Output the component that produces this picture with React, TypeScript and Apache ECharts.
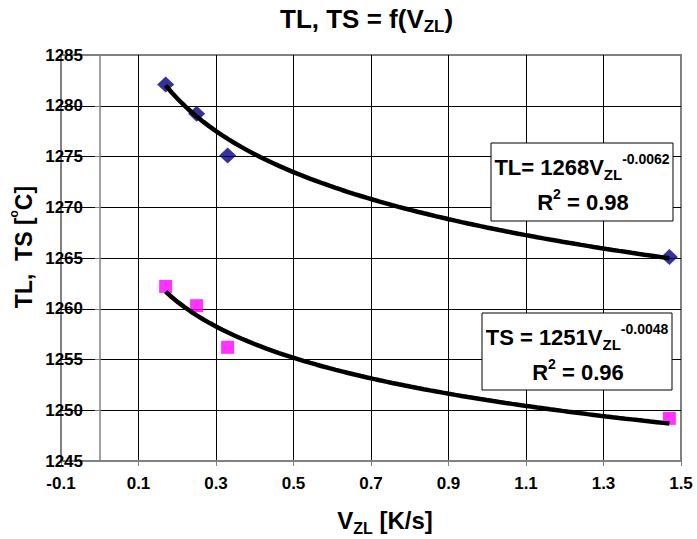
import React, { useEffect, useRef } from "react";
import * as echarts from "echarts";

// ---- data ----
const tlX = [0.17, 0.25, 0.33, 1.47];
const tlY = [1282.1, 1279.2, 1275.1, 1265.1];
const tsX = [0.17, 0.25, 0.33, 1.47];
const tsY = [1262.2, 1260.3, 1256.2, 1249.2];
// power trendline coefficients shown in the chart: y = a * x^b
const tlFit = [1268, -0.0062];
const tsFit = [1251, -0.0048];
const tlR2 = "0.98";
const tsR2 = "0.96";
// axes
const xRange = [-0.1, 1.5];
const xStep = 0.2;
const yRange = [1245, 1285];
const yStep = 5;

const FONT = "'Liberation Sans', Arial, Helvetica, sans-serif";

function fitCurve(xs: number[], fit: number[]) {
  const lo = Math.min(...xs);
  const hi = Math.max(...xs);
  const n = 80;
  const out: number[][] = [];
  for (let i = 0; i <= n; i++) {
    const x = lo + ((hi - lo) * i) / n;
    out.push([x, fit[0] * Math.pow(x, fit[1])]);
  }
  return out;
}

const boxRich = {
  m: { fontSize: 22, fontWeight: "bold", fontFamily: FONT, lineHeight: 30, verticalAlign: "middle", fill: "#000", color: "#000" },
  sub: { fontSize: 15, fontWeight: "bold", fontFamily: FONT, lineHeight: 19, verticalAlign: "bottom", fill: "#000", color: "#000" },
  sup: { fontSize: 14, fontWeight: "bold", fontFamily: FONT, lineHeight: 19, verticalAlign: "top", fill: "#000", color: "#000" },
};

const nameRich = {
  m: { fontSize: 24, fontWeight: "bold", fontFamily: FONT, lineHeight: 32, verticalAlign: "middle", fill: "#000", color: "#000" },
  sub: { fontSize: 16, fontWeight: "bold", fontFamily: FONT, lineHeight: 20, verticalAlign: "bottom", fill: "#000", color: "#000" },
  o: { fontSize: 12, fontWeight: "bold", fontFamily: FONT, lineHeight: 18, verticalAlign: "top", fill: "#000", color: "#000" },
};

const yNameRich = {
  m: { fontSize: 23, fontWeight: "bold", fontFamily: FONT, lineHeight: 32, verticalAlign: "middle", fill: "#000", color: "#000" },
  o: { fontSize: 12, fontWeight: "bold", fontFamily: FONT, lineHeight: 18, verticalAlign: "top", fill: "#000", color: "#000" },
};

function richText(x: number, y: number, text: string, rich: any, rotation = 0) {
  return {
    type: "text",
    x,
    y,
    z: 20,
    rotation,
    style: {
      text,
      rich,
      textAlign: "center",
      textVerticalAlign: "middle",
      fill: "#000",
      font: `bold 21px ${FONT}`,
    },
  };
}

export default function App() {
  const ref = useRef<HTMLDivElement>(null);

  useEffect(() => {
    document.body.style.margin = "0";
    const chart = echarts.init(ref.current!, undefined, { renderer: "svg" });
    const option: any = {
      animation: false,
      backgroundColor: "#fff",
      title: {
        text: "{m|TL, TS = f(V}{sub|ZL}{m|)}",
        left: 280,
        top: 3,
        padding: 0,
        textStyle: {
          fontFamily: FONT,
          fontWeight: "bold",
          fontSize: 26,
          color: "#000",
          rich: {
            m: { fontSize: 26, fontWeight: "bold", fontFamily: FONT, lineHeight: 32, verticalAlign: "middle", color: "#000" },
            sub: { fontSize: 17, fontWeight: "bold", fontFamily: FONT, lineHeight: 14, verticalAlign: "bottom", color: "#000" },
          },
        },
      },
      grid: {
        left: 61,
        right: 16,
        top: 55,
        bottom: 78,
        show: true,
        borderColor: "#808080",
        borderWidth: 2,
        backgroundColor: "#fff",
      },
      xAxis: {
        type: "value",
        min: xRange[0],
        max: xRange[1],
        interval: xStep,
        axisLine: { show: true, onZero: false, lineStyle: { color: "#808080", width: 2 } },
        axisTick: { show: true, inside: false, length: 5, lineStyle: { color: "#808080", width: 1 } },
        axisLabel: {
          color: "#000",
          fontFamily: FONT,
          fontWeight: "bold",
          fontSize: 17,
          margin: 14,
          formatter: (v: number) => v.toFixed(1),
        },
        splitLine: { show: true, showMinLine: false, showMaxLine: false, lineStyle: { color: "#000", width: 1 } },
      },
      yAxis: {
        type: "value",
        min: yRange[0],
        max: yRange[1],
        interval: yStep,
        offset: -39,
        axisLine: { show: true, onZero: false, lineStyle: { color: "#808080", width: 1.5 } },
        axisTick: { show: true, inside: false, length: 5, lineStyle: { color: "#808080", width: 1 } },
        axisLabel: {
          color: "#000",
          fontFamily: FONT,
          fontWeight: "bold",
          fontSize: 17,
          margin: 17,
          formatter: (v: number) => String(v),
        },
        splitLine: { show: true, showMinLine: false, showMaxLine: false, lineStyle: { color: "#000", width: 1 } },
      },
      series: [
        {
          name: "TL",
          type: "scatter",
          data: tlX.map((x, i) => [x, tlY[i]]),
          symbol: "diamond",
          symbolSize: [17, 16],
          itemStyle: { color: "#000080" },
          z: 2,
        },
        {
          name: "TS",
          type: "scatter",
          data: tsX.map((x, i) => [x, tsY[i]]),
          symbol: "rect",
          symbolSize: 13,
          itemStyle: { color: "#FF00FF" },
          z: 2,
        },
        {
          name: "TL fit",
          type: "line",
          data: fitCurve(tlX, tlFit),
          showSymbol: false,
          symbol: "none",
          lineStyle: { color: "#000", width: 4.5 },
          z: 3,
        },
        {
          name: "TS fit",
          type: "line",
          data: fitCurve(tsX, tsFit),
          showSymbol: false,
          symbol: "none",
          lineStyle: { color: "#000", width: 4.5 },
          z: 3,
        },
      ],
      graphic: [
        {
          type: "rect",
          z: 10,
          shape: { x: 491, y: 143, width: 182, height: 78 },
          style: { fill: "#fff", stroke: "#000", lineWidth: 1 },
        },
        richText(582, 167, `{m|TL= ${tlFit[0]}V}{sub|ZL}{sup|${tlFit[1]}}`, boxRich),
        richText(583, 202, `{m|R}{sup|2}{m| = ${tlR2}}`, boxRich),
        {
          type: "rect",
          z: 10,
          shape: { x: 482, y: 313, width: 190, height: 77 },
          style: { fill: "#fff", stroke: "#000", lineWidth: 1 },
        },
        richText(577, 337, `{m|TS = ${tsFit[0]}V}{sub|ZL}{sup|${tsFit[1]}}`, boxRich),
        richText(578, 372, `{m|R}{sup|2}{m| = ${tsR2}}`, boxRich),
        richText(385, 520, "{m|V}{sub|ZL}{m| [K/s]}", nameRich),
        richText(24, 247, "{m|TL,  TS [}{o|o}{m|C]}", yNameRich, Math.PI / 2),
      ],
    };
    chart.setOption(option);
    return () => chart.dispose();
  }, []);

  return <div ref={ref} style={{ width: 697, height: 539 }} />;
}
